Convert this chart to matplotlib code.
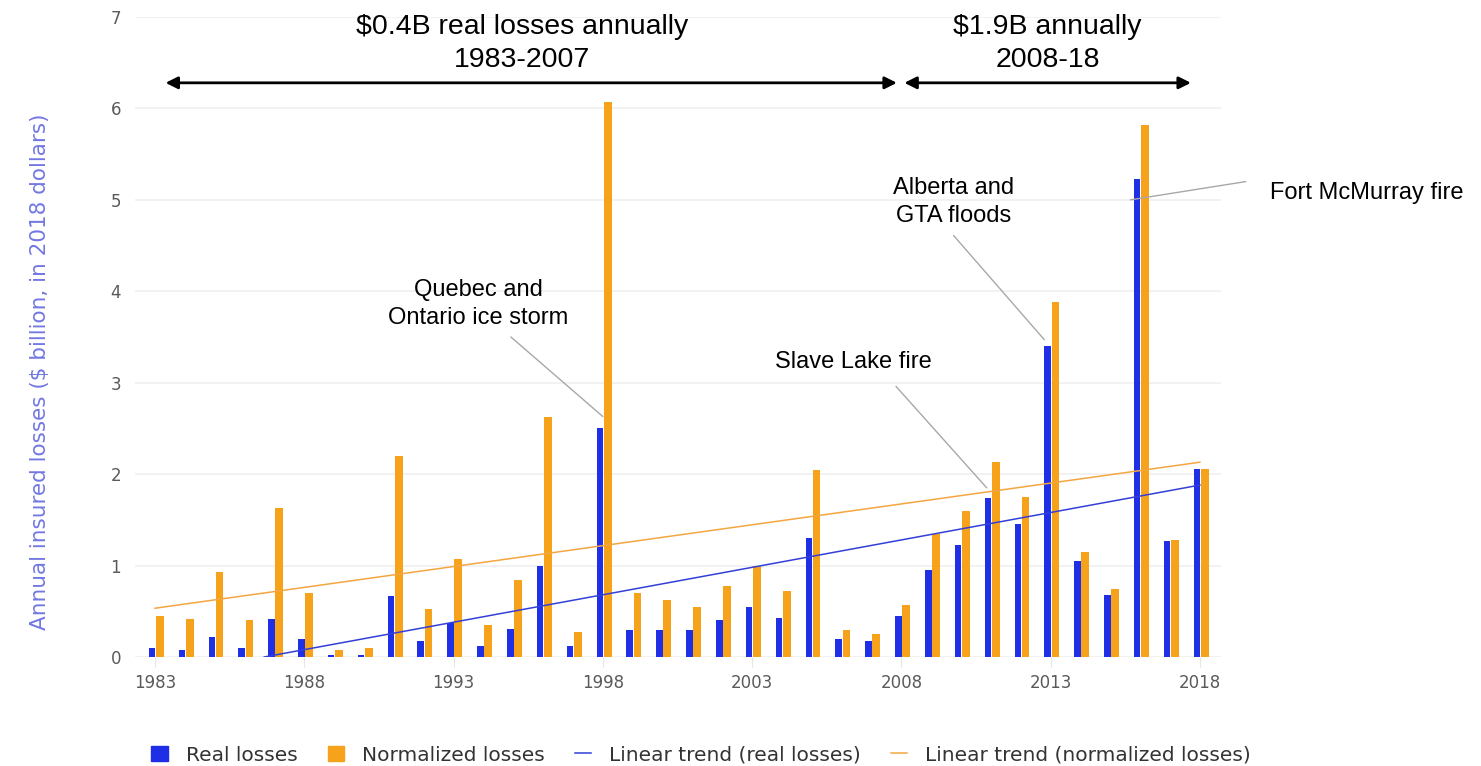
import numpy as np
import matplotlib
matplotlib.use("Agg")
import matplotlib.pyplot as plt
from matplotlib.lines import Line2D
from matplotlib.patches import Patch

# Annual insured catastrophe losses, $ billion (2018 dollars)
years = np.arange(1983, 2019)
real_losses = [0.10, 0.08, 0.22, 0.10, 0.42, 0.20, 0.02, 0.02, 0.67, 0.17,
               0.37, 0.12, 0.31, 1.00, 0.12, 2.50, 0.30, 0.30, 0.30, 0.41,
               0.55, 0.43, 1.30, 0.20, 0.18, 0.45, 0.95, 1.23, 1.74, 1.45,
               3.40, 1.05, 0.68, 5.23, 1.27, 2.06]
normalized_losses = [0.45, 0.42, 0.93, 0.40, 1.63, 0.70, 0.08, 0.10, 2.20, 0.52,
                     1.07, 0.35, 0.84, 2.62, 0.27, 6.07, 0.70, 0.62, 0.55, 0.78,
                     1.00, 0.72, 2.05, 0.30, 0.25, 0.57, 1.35, 1.60, 2.13, 1.75,
                     3.88, 1.15, 0.74, 5.82, 1.28, 2.06]
tick_years = [1983, 1988, 1993, 1998, 2003, 2008, 2013, 2018]

BLUE = "#1f2fe6"
ORANGE = "#f7a21b"
GRID = "#f0f0f0"
TICK_TXT = "#5a5a5a"
UI_FONT = "DejaVu Sans"

fig = plt.figure(figsize=(14.81, 7.66), dpi=100)
ax = fig.add_axes([0.0912, 0.1423, 0.7335, 0.8355])

ax.bar(years - 0.10, real_losses, width=0.22, color=BLUE, zorder=2)
ax.bar(years + 0.16, normalized_losses, width=0.26, color=ORANGE, zorder=2)

# least-squares trend lines; the real-loss trend is only shown above zero
k_r, b_r = np.polyfit(years, real_losses, 1)
k_n, b_n = np.polyfit(years, normalized_losses, 1)
x0 = max(years[0], -b_r / k_r)
xr = np.array([x0, years[-1]])
ax.plot(xr, k_r * xr + b_r, color="#3340d8", lw=1.1, zorder=3)
xn = np.array([years[0], years[-1]])
ax.plot(xn, k_n * xn + b_n, color="#f4a640", lw=1.1, zorder=3)

ax.set_xlim(1982.33, 2018.72)
ax.set_ylim(0, 7)
ax.set_yticks(range(0, 8))
ax.set_xticks(tick_years)
ax.grid(axis="y", color=GRID, lw=1.2, zorder=0)
for s in ax.spines.values():
    s.set_visible(False)
ax.tick_params(axis="y", length=0, pad=10, labelsize=12, labelcolor=TICK_TXT)
ax.tick_params(axis="x", length=7, color="#e6e6e6", pad=5, labelsize=12,
               labelcolor=TICK_TXT)
for lab in ax.get_xticklabels() + ax.get_yticklabels():
    lab.set_family(UI_FONT)

fig.text(0.027, 0.515, "Annual insured losses ($ billion, in 2018 dollars)",
         rotation=90, ha="center", va="center", fontsize=15.5,
         color="#7378e2", family=UI_FONT)

# period arrows and averages
arrow = dict(arrowstyle="<|-|>", color="black", lw=2, mutation_scale=18,
             shrinkA=0, shrinkB=0)
ax.annotate("", xy=(1983.35, 6.28), xytext=(2007.85, 6.28), arrowprops=arrow,
            annotation_clip=False)
ax.annotate("", xy=(2008.1, 6.28), xytext=(2017.7, 6.28), arrowprops=arrow,
            annotation_clip=False)
big = dict(family="Liberation Sans", fontsize=20.5, ha="center", va="center",
           linespacing=1.35)
ax.text(1995.3, 6.71, "$0.4B real losses annually\n1983-2007", **big)
ax.text(2012.9, 6.71, "$1.9B annually\n2008-18", **big)

# event call-outs
lead = dict(arrowstyle="-", color="#a8a8a8", lw=1, shrinkA=0, shrinkB=0)
note = dict(family="Liberation Sans", fontsize=17, va="center",
            linespacing=1.35)
events = [
    ("Quebec and\nOntario ice storm", (1993.82, 3.86), "center",
     (1994.92, 3.50), (1998.0, 2.63)),
    ("Slave Lake fire", (2006.38, 3.23), "center",
     (2007.82, 2.96), (2010.86, 1.85)),
    ("Alberta and\nGTA floods", (2009.75, 4.98), "center",
     (2009.75, 4.61), (2012.79, 3.47)),
    ("Fort McMurray fire", (2020.34, 5.08), "left",
     (2019.54, 5.20), (2015.67, 5.0)),
]
for label, pos, ha, start, end in events:
    ax.text(pos[0], pos[1], label, ha=ha, **note)
    ax.annotate("", xy=end, xytext=start, arrowprops=lead,
                annotation_clip=False)

handles = [
    Patch(color=BLUE, label="Real losses"),
    Patch(color=ORANGE, label="Normalized losses"),
    Line2D([], [], color="#3340d8", lw=1.1, label="Linear trend (real losses)"),
    Line2D([], [], color="#f4a640", lw=1.1,
           label="Linear trend (normalized losses)"),
]
fig.legend(handles=handles, loc="center", bbox_to_anchor=(0.4735, 0.014),
           ncol=4, frameon=False, handlelength=0.8, handleheight=0.8,
           handletextpad=0.9, columnspacing=1.5,
           prop=dict(family=UI_FONT, size=14.5), labelcolor="#333333")

fig.savefig("out.png", dpi=100)
